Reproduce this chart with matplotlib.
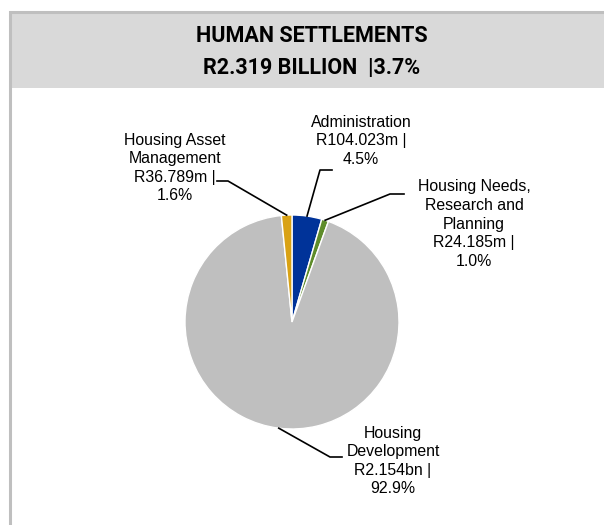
import matplotlib
matplotlib.use('Agg')
import matplotlib.pyplot as plt
from matplotlib.patches import Rectangle
import numpy as np

# datos (millones de rand)
categorias = ['Administration', 'Housing Needs,\nResearch and\nPlanning',
              'Housing\nDevelopment', 'Housing Asset\nManagement']
montos = [104.023, 24.185, 2154.0, 36.789]
montos_txt = ['R104.023m', 'R24.185m', 'R2.154bn', 'R36.789m']
colores = ['#003399', '#5E8C2A', '#BFBFBF', '#D9A214']
titulo = 'HUMAN SETTLEMENTS\nR2.319 BILLION  |3.7%'

W, H = 604, 525
fig = plt.figure(figsize=(W / 100, H / 100), dpi=100)
ax = fig.add_axes([0, 0, 1, 1])
ax.set_xlim(0, W)
ax.set_ylim(0, H)
ax.set_aspect('equal')
ax.axis('off')


def Y(y):
    return H - y


# marco y cabecera
ax.add_patch(Rectangle((11, Y(88)), W - 11, 75, color='#D9D9D9', lw=0, zorder=0))
ax.plot([10, 10, W], [0, Y(12), Y(12)], color='#BFBFBF', lw=2.2,
        solid_joinstyle='miter', zorder=1)

lineas = titulo.split('\n')
ax.text(312, Y(36), lineas[0], ha='center', va='center', fontsize=15.5,
        fontweight='bold', family='Roboto')
ax.text(312, Y(68), lineas[1], ha='center', va='center', fontsize=15.5,
        fontweight='bold', family='Roboto')

# pastel
cx, cy, r = 292, 322, 107
wedges, _ = ax.pie(montos, colors=colores, startangle=90, counterclock=False,
                   center=(cx, Y(cy)), radius=r,
                   wedgeprops=dict(edgecolor='white', linewidth=1))
ax.set_xlim(0, W)
ax.set_ylim(0, H)

total = sum(montos)
# posiciones de etiquetas (pixeles): texto, codo, extremo
pos_txt = [(361, 141), (474, 224), (393, 461), (175, 168)]
codos = [(320, 170), (390, 194), (330, 457), (228, 181)]
finales = [(332, 170), (404, 194), (342, 457), (217, 181)]

for w, cat, m, mt, pt, cd, fn in zip(wedges, categorias, montos, montos_txt,
                                      pos_txt, codos, finales):
    ang = np.deg2rad((w.theta1 + w.theta2) / 2)
    x0 = cx + r * np.cos(ang)
    y0 = Y(cy) + r * np.sin(ang)
    ax.plot([x0, cd[0], fn[0]], [y0, Y(cd[1]), Y(fn[1])], color='black',
            lw=1.2, zorder=3)
    etiqueta = f'{cat}\n{mt} |\n{m / total * 100:.1f}%'
    ax.text(pt[0], Y(pt[1]), etiqueta, ha='center', va='center',
            fontsize=11.4, family='Liberation Sans', linespacing=1.3)

fig.savefig('out.png', dpi=100)
